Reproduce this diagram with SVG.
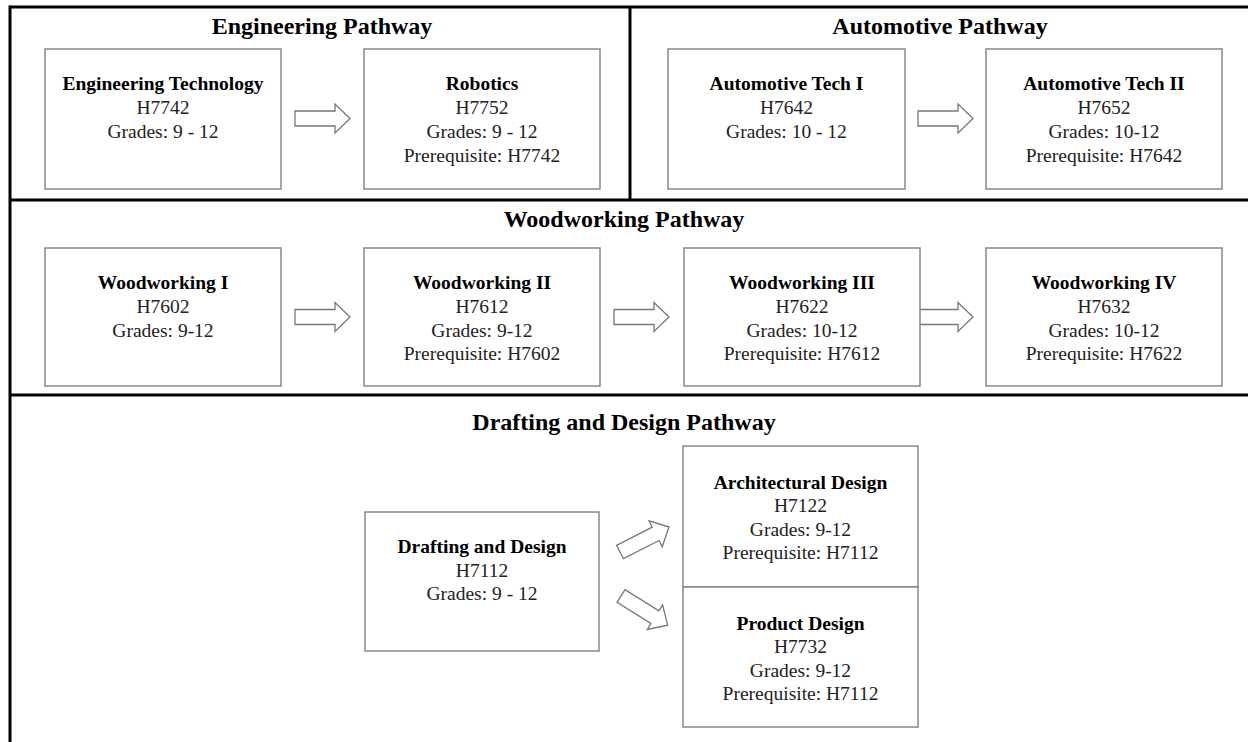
<svg xmlns="http://www.w3.org/2000/svg" width="1248" height="742" viewBox="0 0 1248 742">
<defs>
<style>
.frame{stroke:#000;stroke-width:3;fill:none}
.box{fill:#fff;stroke:#888;stroke-width:1.5}
.arrow{fill:#fff;stroke:#777;stroke-width:1.3;stroke-linejoin:miter}
.title{font-family:"Liberation Serif",serif;font-weight:bold;font-size:24px;fill:#000;text-anchor:middle}
.t{font-family:"Liberation Serif",serif;font-size:19.5px;fill:#222;text-anchor:middle}
.b{font-weight:bold;fill:#000}
</style>
<path id="arr" d="M0,-7.5 H40 V-14.5 L55,0 L40,14.5 V7.5 H0 Z"/>
</defs>
<rect width="1248" height="742" fill="#fff"/>
<g id="frame">
<line class="frame" x1="10" y1="7" x2="1248" y2="7"/>
<line class="frame" x1="10" y1="5.5" x2="10" y2="742"/>
<line class="frame" x1="630" y1="7" x2="630" y2="200"/>
<line class="frame" x1="10" y1="200" x2="1248" y2="200"/>
<line class="frame" x1="10" y1="395" x2="1248" y2="395"/>
<text class="title" x="322" y="34">Engineering Pathway</text>
<text class="title" x="940" y="34">Automotive Pathway</text>
<text class="title" x="624" y="227">Woodworking Pathway</text>
<text class="title" x="624" y="430">Drafting and Design Pathway</text>
</g>
<g id="connectors">
<use href="#arr" class="arrow" transform="translate(295,118.5)"/>
<use href="#arr" class="arrow" transform="translate(918,118.5)"/>
<use href="#arr" class="arrow" transform="translate(295,317)"/>
<use href="#arr" class="arrow" transform="translate(614,317)"/>
<use href="#arr" class="arrow" transform="translate(918,317)"/>
<use href="#arr" class="arrow" transform="translate(620,552) rotate(-27)"/>
<use href="#arr" class="arrow" transform="translate(621,596) rotate(32)"/>
</g>
<g id="eng-tech">
<rect class="box" x="45" y="49" width="236" height="140"/>
<text class="t b" x="163" y="89.5">Engineering Technology</text>
<text class="t" x="163" y="113.5">H7742</text>
<text class="t" x="163" y="137.5">Grades: 9 - 12</text>
</g>
<g id="robotics">
<rect class="box" x="364" y="49" width="236" height="140"/>
<text class="t b" x="482" y="89.5">Robotics</text>
<text class="t" x="482" y="113.5">H7752</text>
<text class="t" x="482" y="137.5">Grades: 9 - 12</text>
<text class="t" x="482" y="161.5">Prerequisite: H7742</text>
</g>
<g id="auto1">
<rect class="box" x="668" y="49" width="237" height="140"/>
<text class="t b" x="786.5" y="89.5">Automotive Tech I</text>
<text class="t" x="786.5" y="113.5">H7642</text>
<text class="t" x="786.5" y="137.5">Grades: 10 - 12</text>
</g>
<g id="auto2">
<rect class="box" x="986" y="49" width="236" height="140"/>
<text class="t b" x="1104" y="89.5">Automotive Tech II</text>
<text class="t" x="1104" y="113.5">H7652</text>
<text class="t" x="1104" y="137.5">Grades: 10-12</text>
<text class="t" x="1104" y="161.5">Prerequisite: H7642</text>
</g>
<g id="wood1">
<rect class="box" x="45" y="248" width="236" height="138"/>
<text class="t b" x="163" y="289">Woodworking I</text>
<text class="t" x="163" y="312.5">H7602</text>
<text class="t" x="163" y="336.5">Grades: 9-12</text>
</g>
<g id="wood2">
<rect class="box" x="364" y="248" width="236" height="138"/>
<text class="t b" x="482" y="289">Woodworking II</text>
<text class="t" x="482" y="312.5">H7612</text>
<text class="t" x="482" y="336.5">Grades: 9-12</text>
<text class="t" x="482" y="360">Prerequisite: H7602</text>
</g>
<g id="wood3">
<rect class="box" x="684" y="248" width="236" height="138"/>
<text class="t b" x="802" y="289">Woodworking III</text>
<text class="t" x="802" y="312.5">H7622</text>
<text class="t" x="802" y="336.5">Grades: 10-12</text>
<text class="t" x="802" y="360">Prerequisite: H7612</text>
</g>
<g id="wood4">
<rect class="box" x="986" y="248" width="236" height="138"/>
<text class="t b" x="1104" y="289">Woodworking IV</text>
<text class="t" x="1104" y="312.5">H7632</text>
<text class="t" x="1104" y="336.5">Grades: 10-12</text>
<text class="t" x="1104" y="360">Prerequisite: H7622</text>
</g>
<g id="drafting">
<rect class="box" x="365" y="512" width="234" height="139"/>
<text class="t b" x="482" y="553">Drafting and Design</text>
<text class="t" x="482" y="576.5">H7112</text>
<text class="t" x="482" y="600">Grades: 9 - 12</text>
</g>
<g id="arch">
<rect class="box" x="683" y="446" width="235" height="141"/>
<text class="t b" x="800.5" y="488.5">Architectural Design</text>
<text class="t" x="800.5" y="512">H7122</text>
<text class="t" x="800.5" y="536">Grades: 9-12</text>
<text class="t" x="800.5" y="559">Prerequisite: H7112</text>
</g>
<g id="product">
<rect class="box" x="683" y="587" width="235" height="140"/>
<text class="t b" x="800.5" y="629.5">Product Design</text>
<text class="t" x="800.5" y="653">H7732</text>
<text class="t" x="800.5" y="677">Grades: 9-12</text>
<text class="t" x="800.5" y="700">Prerequisite: H7112</text>
</g>
</svg>
